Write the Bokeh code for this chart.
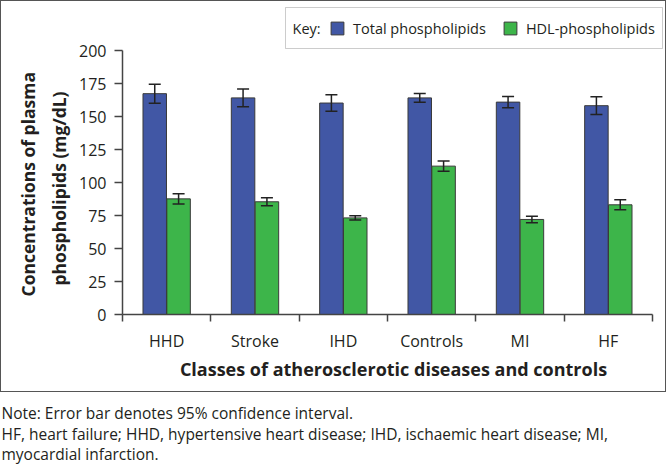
import numpy as np
from bokeh.plotting import figure
from bokeh.layouts import column
from bokeh.models import (ColumnDataSource, Range1d, FixedTicker, Whisker, TeeHead,
                          Legend, LegendItem, Title, Label, BoxAnnotation)
from bokeh.embed import file_html
from bokeh.resources import INLINE

categories = ["HHD", "Stroke", "IHD", "Controls", "MI", "HF"]
total_mean = [167.3, 164.1, 160.2, 164.1, 160.9, 158.2]
total_ci = [7.2, 6.8, 6.2, 3.3, 4.3, 6.7]
hdl_mean = [87.6, 85.4, 73.2, 112.4, 72.0, 83.1]
hdl_ci = [3.8, 3.0, 1.7, 3.8, 2.5, 3.8]
y_ticks = [0, 25, 50, 75, 100, 125, 150, 175, 200]
series_names = ["Total phospholipids", "HDL-phospholipids"]

FONT = "Open Sans"
TXT = "#231f20"
BLUE = "#4157a5"
GREEN = "#3db54a"
OFF = 0.135
BW = 0.266
Y_MAX = 200
N = len(categories)

# page-pixel layout of the plotting frame (axes run 122..652 and 314..50)
FX0, FX1, FY0, FY1 = 122, 652, 314, 50
def xd(px):
    return (px - FX0) / (FX1 - FX0) * N
def yd(py):
    return (FY0 - py) / (FY0 - FY1) * Y_MAX

# frame extended above/right of the axes so the key box sits inside it
Y_TOP = yd(5)
X_RIGHT = xd(664)

centers = np.arange(N) + 0.5
src_t = ColumnDataSource(dict(x=centers - OFF, top=total_mean,
                              upper=np.array(total_mean) + np.array(total_ci),
                              lower=np.array(total_mean) - np.array(total_ci)))
src_h = ColumnDataSource(dict(x=centers + OFF, top=hdl_mean,
                              upper=np.array(hdl_mean) + np.array(hdl_ci),
                              lower=np.array(hdl_mean) - np.array(hdl_ci)))

p = figure(width=666, height=392, output_backend="svg", toolbar_location=None,
           x_range=Range1d(0, X_RIGHT), y_range=Range1d(0, Y_TOP),
           min_border_left=121, min_border_right=3, min_border_top=4, min_border_bottom=79,
           styles={"border": "1px solid #555555"})
p.outline_line_color = None
p.xgrid.visible = False
p.ygrid.visible = False
p.background_fill_color = "white"
p.border_fill_color = "white"

rt = p.vbar(x="x", top="top", width=BW, source=src_t, fill_color=BLUE, line_color="#3a3a3a", line_width=1)
rh = p.vbar(x="x", top="top", width=BW, source=src_h, fill_color=GREEN, line_color="#3a3a3a", line_width=1)

for s in (src_t, src_h):
    w = Whisker(base="x", upper="upper", lower="lower", source=s, line_color="#222222", line_width=1.5,
                upper_head=TeeHead(size=12, line_color="#222222", line_width=1.5),
                lower_head=TeeHead(size=12, line_color="#222222", line_width=1.5))
    w.level = "overlay"
    p.add_layout(w)

# y axis
ya = p.yaxis[0]
ya.ticker = FixedTicker(ticks=y_ticks)
ya.bounds = (0, Y_MAX)
ya.major_tick_out = 8
ya.major_tick_in = 0
ya.minor_tick_line_color = None
ya.axis_line_color = "#444444"
ya.axis_line_width = 1.5
ya.major_tick_line_color = "#444444"
ya.major_tick_line_width = 1.5
ya.major_label_text_font = FONT
ya.major_label_text_font_size = "16px"
ya.major_label_text_color = TXT
ya.major_label_standoff = 8

# x axis
xa = p.xaxis[0]
xa.ticker = FixedTicker(ticks=list(centers), minor_ticks=list(range(N + 1)))
xa.bounds = (0, N)
xa.major_label_overrides = {float(c): n for c, n in zip(centers, categories)}
xa.major_tick_line_color = None
xa.major_tick_out = 0
xa.major_tick_in = 0
xa.minor_tick_out = 7
xa.minor_tick_in = 0
xa.minor_tick_line_color = "#444444"
xa.minor_tick_line_width = 1.5
xa.axis_line_color = "#444444"
xa.axis_line_width = 1.5
xa.major_label_text_font = FONT
xa.major_label_text_font_size = "16px"
xa.major_label_text_color = TXT
xa.major_label_standoff = 8
xa.axis_label = "Classes of atherosclerotic diseases and controls"
xa.axis_label_text_font = FONT
xa.axis_label_text_font_size = "18px"
xa.axis_label_text_font_style = "bold"
xa.axis_label_text_color = TXT
xa.axis_label_standoff = 2

# y title (two lines, stacked outward from the axis)
for txt, so, off in (("phospholipids (mg/dL)", 11, 29), ("Concentrations of plasma", 0, 18)):
    t = Title(text=txt, align="left", offset=off, text_font=FONT, text_font_size="17.5px",
              text_font_style="bold", text_color=TXT, standoff=so)
    p.add_layout(t, "left")

# key
p.add_layout(BoxAnnotation(left=xd(285), right=xd(662), top=yd(7), bottom=yd(48),
                           fill_color=None, line_color="#555555", line_width=1))
p.add_layout(Label(x=xd(292), y=yd(28), text="Key:", text_font=FONT, text_font_size="14.5px",
                   text_color=TXT, text_baseline="middle", text_align="left"))
legend = Legend(items=[LegendItem(label=series_names[0], renderers=[rt]),
                       LegendItem(label=series_names[1], renderers=[rh])],
                orientation="horizontal", location=(207, 276))
legend.label_text_font = FONT
legend.label_text_font_size = "14.5px"
legend.label_text_color = TXT
legend.label_height = 20
legend.glyph_width = 16
legend.glyph_height = 16
legend.label_standoff = 8
legend.spacing = 16
legend.padding = 5
legend.margin = 0
legend.border_line_color = None
legend.background_fill_color = None
p.add_layout(legend, "center")

# notes below the chart box, as one multi-line title under a tiny empty frame
notes = ["Note: Error bar denotes 95% confidence interval.",
         "HF, heart failure; HHD, hypertensive heart disease; IHD, ischaemic heart disease; MI,",
         "myocardial infarction."]
q = figure(width=670, height=73, output_backend="svg", toolbar_location=None,
           x_range=Range1d(0, 1), y_range=Range1d(0, 1), min_border=0,
           x_axis_type=None, y_axis_type=None)
q.grid.visible = False
q.outline_line_color = None
q.add_layout(Title(text="\n".join(notes), align="left", offset=-120, text_font=FONT,
                   text_font_size="15.5px", text_font_style="normal", text_color=TXT,
                   text_line_height=0.95, standoff=0), "below")

layout = column(p, q, spacing=0)
open("out.html", "w").write(file_html(layout, INLINE))
